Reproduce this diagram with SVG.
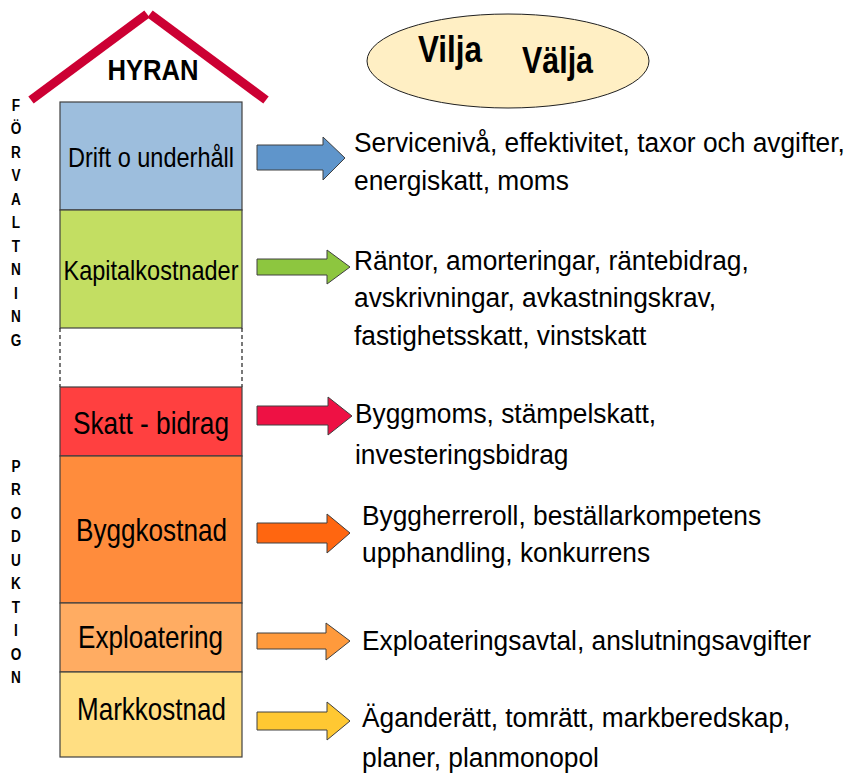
<svg xmlns="http://www.w3.org/2000/svg" width="850" height="776" viewBox="0 0 850 776">
<style>
.box{stroke:#404040;stroke-width:1.2}
.lbl{font-family:"Liberation Sans",Arial,sans-serif;fill:#000;text-anchor:middle}
.side{font-family:"Liberation Sans",Arial,sans-serif;font-weight:bold;font-size:17px;fill:#000;text-anchor:middle}
.txt{font-family:"Liberation Sans",Arial,sans-serif;font-size:28px;fill:#000}
.arr{stroke:#404040;stroke-width:1}
.big{font-family:"Liberation Sans",Arial,sans-serif;font-weight:bold;fill:#000}
</style>
<rect width="850" height="776" fill="#fff"/>
<g id="roof">
<polyline points="31,100 147,14" fill="none" stroke="#CC0033" stroke-width="9"/>
<polyline points="150,14 266,100" fill="none" stroke="#CC0033" stroke-width="9"/>
<text class="big" x="153" y="80" font-size="30" text-anchor="middle" textLength="91" lengthAdjust="spacingAndGlyphs">HYRAN</text>
</g>
<g id="vilja-valja">
<ellipse cx="508" cy="61" rx="141" ry="47" fill="#FFEFC4" stroke="#202020" stroke-width="1"/>
<text class="big" x="418" y="62" font-size="37" textLength="64" lengthAdjust="spacingAndGlyphs">Vilja</text>
<text class="big" x="522" y="73" font-size="37" textLength="71" lengthAdjust="spacingAndGlyphs">Välja</text>
</g>
<g id="forvaltning" transform="scale(0.8,1)">
<text class="side" x="20" y="111">F</text>
<text class="side" x="20" y="134.5">Ö</text>
<text class="side" x="20" y="158">R</text>
<text class="side" x="20" y="181.5">V</text>
<text class="side" x="20" y="205">A</text>
<text class="side" x="20" y="228.5">L</text>
<text class="side" x="20" y="252">T</text>
<text class="side" x="20" y="275.5">N</text>
<text class="side" x="20" y="299">I</text>
<text class="side" x="20" y="322.5">N</text>
<text class="side" x="20" y="346">G</text>
</g>
<g id="produktion" transform="scale(0.8,1)">
<text class="side" x="20" y="472">P</text>
<text class="side" x="20" y="495.5">R</text>
<text class="side" x="20" y="519">O</text>
<text class="side" x="20" y="542.5">D</text>
<text class="side" x="20" y="566">U</text>
<text class="side" x="20" y="589.5">K</text>
<text class="side" x="20" y="613">T</text>
<text class="side" x="20" y="636.5">I</text>
<text class="side" x="20" y="660">O</text>
<text class="side" x="20" y="683.5">N</text>
</g>
<g id="drift">
<rect class="box" x="60" y="102" width="182" height="108" fill="#9DBEDD"/>
<text class="lbl" x="151" y="167" font-size="28" textLength="166" lengthAdjust="spacingAndGlyphs">Drift o underhåll</text>
</g>
<g id="kapital">
<rect class="box" x="60" y="210" width="182" height="118" fill="#C3DE62"/>
<text class="lbl" x="151" y="280" font-size="28" textLength="175" lengthAdjust="spacingAndGlyphs">Kapitalkostnader</text>
</g>
<g id="gap">
<line x1="60" y1="328" x2="60" y2="387" stroke="#202020" stroke-width="1.2" stroke-dasharray="4,3"/>
<line x1="242" y1="328" x2="242" y2="387" stroke="#202020" stroke-width="1.2" stroke-dasharray="4,3"/>
</g>
<g id="skatt">
<rect class="box" x="60" y="387" width="182" height="69" fill="#FF4040"/>
<text class="lbl" x="151" y="434" font-size="32" textLength="156" lengthAdjust="spacingAndGlyphs">Skatt - bidrag</text>
</g>
<g id="bygg">
<rect class="box" x="60" y="456" width="182" height="147" fill="#FF8C3C"/>
<text class="lbl" x="151.5" y="541" font-size="32" textLength="151" lengthAdjust="spacingAndGlyphs">Byggkostnad</text>
</g>
<g id="exploatering">
<rect class="box" x="60" y="603" width="182" height="69" fill="#FFAC62"/>
<text class="lbl" x="150.5" y="648" font-size="32" textLength="145" lengthAdjust="spacingAndGlyphs">Exploatering</text>
</g>
<g id="mark">
<rect class="box" x="60" y="672" width="182" height="85" fill="#FFDE82"/>
<text class="lbl" x="151.5" y="720" font-size="32" textLength="149" lengthAdjust="spacingAndGlyphs">Markkostnad</text>
</g>
<g id="connectors">
<polygon class="arr" fill="#5F95CB" points="257,145 323,145 323,137 345,158 323,180 323,170 257,170"/>
<polygon class="arr" fill="#8DC63F" points="257,259 327,259 327,250 350,267 327,284 327,275 257,275"/>
<polygon class="arr" fill="#EE1144" points="257,406 328,406 328,397 352,416 328,435 328,425 257,425"/>
<polygon class="arr" fill="#FF6610" points="257,523 327,523 327,514 350,533 327,553 327,543 257,543"/>
<polygon class="arr" fill="#FF9A3C" points="257,633 326,633 326,623 350,641 326,660 326,649 257,649"/>
<polygon class="arr" fill="#FFC832" points="257,712 327,712 327,702 350,721 327,740 327,730 257,730"/>
</g>
<g id="texts">
<text class="txt" transform="translate(354,152) scale(0.94,1)">Servicenivå, effektivitet, taxor och avgifter,</text>
<text class="txt" transform="translate(354,190) scale(0.94,1)">energiskatt, moms</text>
<text class="txt" transform="translate(354,270) scale(0.94,1)">Räntor, amorteringar, räntebidrag,</text>
<text class="txt" transform="translate(354,307) scale(0.94,1)">avskrivningar, avkastningskrav,</text>
<text class="txt" transform="translate(354,345) scale(0.94,1)">fastighetsskatt, vinstskatt</text>
<text class="txt" transform="translate(355,423) scale(0.94,1)">Byggmoms, stämpelskatt,</text>
<text class="txt" transform="translate(355,464) scale(0.94,1)">investeringsbidrag</text>
<text class="txt" transform="translate(362,525) scale(0.94,1)">Byggherreroll, beställarkompetens</text>
<text class="txt" transform="translate(362,562) scale(0.94,1)">upphandling, konkurrens</text>
<text class="txt" transform="translate(362,650) scale(0.94,1)">Exploateringsavtal, anslutningsavgifter</text>
<text class="txt" transform="translate(362,727) scale(0.94,1)">Äganderätt, tomrätt, markberedskap,</text>
<text class="txt" transform="translate(362,767) scale(0.94,1)">planer, planmonopol</text>
</g>
</svg>
